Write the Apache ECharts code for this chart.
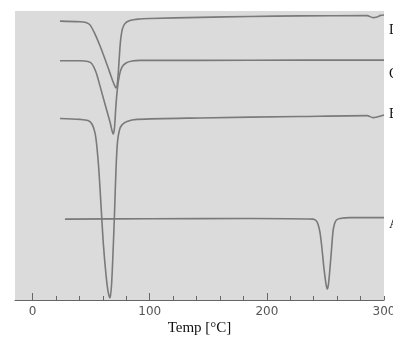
<!DOCTYPE html>
<html>
<head>
<meta charset="utf-8">
<script src="https://cdn.jsdelivr.net/npm/echarts@6/dist/echarts.min.js"></script>
<style>
  html, body { margin: 0; padding: 0; background: #fff; }
  #chart { width: 393px; height: 343px; }
</style>
</head>
<body>
<div id="chart"></div>
<script>
// DSC traces: [temperature °C, heat flow (arb. units, offset)]
const curveD = [
  [23.4, 96.5], [40.5, 96.3], [45.6, 96.0], [49.0, 95.2], [53.3, 92.0], [57.6, 87.9],
  [61.8, 83.4], [66.1, 78.5], [69.5, 74.7], [71.2, 73.4], [72.5, 75.4], [73.8, 82.4],
  [75.0, 89.3], [76.7, 93.8], [78.9, 95.7], [83.1, 96.7], [90.0, 97.2], [100.2, 97.4],
  [142.9, 97.8], [185.6, 98.1], [228.3, 98.3], [285.5, 98.4], [290.6, 97.7], [294.0, 97.9],
  [296.6, 98.4], [300, 98.6]
]
const curveC = [
  [23.4, 82.8], [40.5, 82.8], [47.3, 82.5], [50.7, 81.7], [54.1, 78.9], [57.6, 74.0],
  [61.8, 67.8], [66.1, 61.6], [68.9, 57.4], [69.9, 59.5], [71.2, 67.5], [72.5, 73.4],
  [74.2, 77.9], [76.3, 80.6], [79.7, 82.0], [84.9, 82.7], [91.7, 82.9], [142.9, 82.9],
  [228.3, 83.0], [300, 83.0]
]
const curveB = [
  [23.4, 62.8], [40.5, 62.5], [47.3, 62.1], [50.7, 60.9], [53.3, 57.8], [55.0, 52.6],
  [56.7, 44.3], [58.4, 32.9], [60.5, 19.0], [62.7, 8.7], [64.4, 3.1], [66.1, 0.7],
  [67.4, 5.2], [68.6, 15.6], [69.9, 29.4], [71.2, 45.0], [72.5, 54.7], [74.2, 58.8],
  [76.3, 60.6], [80.6, 61.8], [89.1, 62.5], [142.9, 63.0], [228.3, 63.5], [285.5, 63.8],
  [290.6, 63.1], [294.0, 63.3], [300, 64.0]
]
const curveA = [
  [27.7, 28.0], [100.2, 28.1], [185.6, 28.2], [239.4, 28.0], [241.9, 27.5], [243.6, 26.3],
  [245.3, 23.5], [247.0, 18.0], [248.7, 11.1], [250.5, 5.5], [251.6, 3.8], [252.6, 5.5],
  [253.9, 11.1], [255.3, 18.0], [256.4, 23.5], [257.7, 26.3], [259.4, 27.7], [262.4, 28.2],
  [271.0, 28.5], [300, 28.5]
]
const curveNames = ['D', 'C', 'B', 'A']
const minorTicks = [0, 20, 40, 60, 80, 100, 120, 140, 160, 180, 200, 220, 240, 260, 280, 300]
const majorTicks = [0, 100, 200]
const tickLabels = [0, 100, 200, 300]

const traces = [curveD, curveC, curveB, curveA]
// the scanned labels sit a little below each trace's right end
const labelShift = [15, 14, -1, 7]

const chart = echarts.init(document.getElementById('chart'))

chart.setOption({
  animation: false,
  grid: {
    left: 15, right: 9, top: 11, bottom: 43,
    outerBoundsMode: 'none',
    show: true, backgroundColor: '#dbdbdb', borderWidth: 0
  },
  xAxis: [
    {
      type: 'value', min: -15, max: 300,
      splitLine: { show: false },
      axisLine: { show: true, lineStyle: { color: '#666', width: 1 } },
      axisTick: { show: true, inside: true, length: 4, customValues: minorTicks, lineStyle: { color: '#666' } },
      axisLabel: { show: false },
      name: 'Temp [°C]',
      nameLocation: 'middle',
      nameGap: 21,
      nameTextStyle: { fontFamily: 'Liberation Serif', fontSize: 15, color: '#111' }
    },
    {
      type: 'value', min: -15, max: 300, position: 'bottom', offset: 0,
      splitLine: { show: false },
      axisLine: { show: false },
      axisTick: { show: true, inside: true, length: 7, customValues: majorTicks, lineStyle: { color: '#666' } },
      axisLabel: {
        show: true, margin: 6, customValues: tickLabels,
        fontFamily: 'DejaVu Sans', fontSize: 12, color: '#555'
      }
    }
  ],
  yAxis: { type: 'value', min: 0, max: 100, show: false },
  series: traces.map(function (data, i) {
    return {
      type: 'line',
      name: curveNames[i],
      data: data,
      showSymbol: false,
      smooth: 0.3,
      clip: false,
      lineStyle: { color: '#7a7a7a', width: 1.6 },
      endLabel: {
        show: true,
        formatter: '{a}',
        distance: 5,
        offset: [0, labelShift[i]],
        fontFamily: 'Liberation Serif',
        fontSize: 14,
        color: '#111'
      }
    }
  })
})
</script>
</body>
</html>
